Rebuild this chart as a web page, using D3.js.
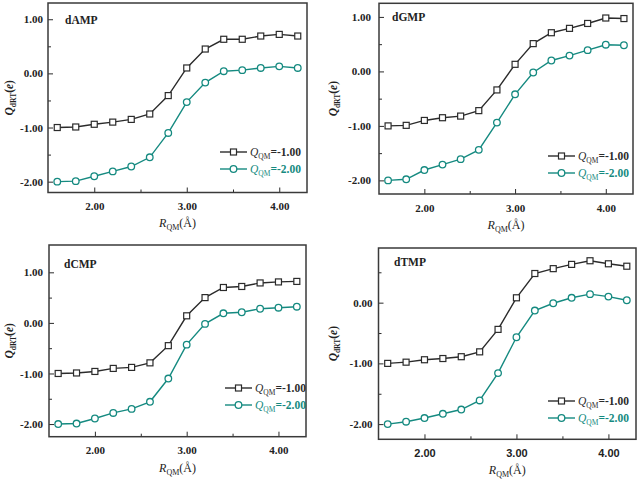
<!DOCTYPE html>
<html><head><meta charset="utf-8">
<script src="https://cdn.jsdelivr.net/npm/d3@7"></script>
<style>body{margin:0;background:#fff}svg{display:block}</style>
</head><body>
<svg id="c" width="639" height="481"></svg>
<script>
const rqm = [1.6,1.8,2.0,2.2,2.4,2.6,2.8,3.0,3.2,3.4,3.6,3.8,4.0,4.2];
const seriesNames = ["-1.00","-2.00"];
const dAMP_m1 = [-1.00,-0.99,-0.94,-0.90,-0.85,-0.75,-0.41,0.10,0.45,0.63,0.63,0.69,0.72,0.69];
const dAMP_m2 = [-2.00,-1.99,-1.90,-1.81,-1.72,-1.55,-1.10,-0.53,-0.17,0.04,0.06,0.10,0.13,0.10];
const dGMP_m1 = [-1.00,-0.99,-0.90,-0.85,-0.82,-0.72,-0.34,0.13,0.51,0.71,0.79,0.88,0.98,0.97];
const dGMP_m2 = [-2.00,-1.98,-1.81,-1.71,-1.61,-1.44,-0.94,-0.42,-0.02,0.20,0.29,0.39,0.49,0.48];
const dCMP_m1 = [-1.00,-0.99,-0.96,-0.90,-0.88,-0.79,-0.45,0.14,0.50,0.70,0.72,0.79,0.81,0.82];
const dCMP_m2 = [-2.00,-1.99,-1.89,-1.78,-1.70,-1.56,-1.10,-0.43,-0.02,0.19,0.21,0.28,0.30,0.32];
const dTMP_m1 = [-1.00,-0.98,-0.94,-0.92,-0.89,-0.81,-0.44,0.08,0.48,0.56,0.63,0.69,0.64,0.60];
const dTMP_m2 = [-2.00,-1.96,-1.90,-1.83,-1.76,-1.61,-1.16,-0.57,-0.13,-0.01,0.08,0.14,0.10,0.04];
const xMajor = [2,3,4];
const xMinor = [2.5,3.5];

const panels = [
  {name:"dAMP", s1:dAMP_m1, s2:dAMP_m2, x:48, y:3, w:259, h:189.5, yd:[-2.2,1.3], yMaj:[-2,-1,0,1], yMin:[-1.5,-0.5,0.5], ypad:5, ylx:13, xlabY:227, xtickFont:"Liberation Serif", lgX:220, lgY:[152,169], tx:65, ty:24},
  {name:"dGMP", s1:dGMP_m1, s2:dGMP_m2, x:379, y:3.3, w:254, h:190.7, yd:[-2.25,1.25], yMaj:[-2,-1,0,1], yMin:[-1.5,-0.5,0.5], ypad:8, ylx:337, xlabY:229, xtickFont:"Liberation Serif", lgX:548, lgY:[156,173], tx:392, ty:21},
  {name:"dCMP", s1:dCMP_m1, s2:dCMP_m2, x:49, y:245, w:257, h:191.7, yd:[-2.25,1.54], yMaj:[-2,-1,0,1], yMin:[-1.5,-0.5,0.5], ypad:6, ylx:13, xlabY:472, xtickFont:"Liberation Serif", lgX:225, lgY:[388,405], tx:64, ty:268},
  {name:"dTMP", s1:dTMP_m1, s2:dTMP_m2, x:378.5, y:248, w:257.5, h:191.3, yd:[-2.25,0.9], yMaj:[-2,-1,0], yMin:[-1.5,-0.5,0.5], ypad:6, ylx:337, xlabY:474, xtickFont:"Liberation Sans", lgX:548, lgY:[401,418], tx:394, ty:266}
];

const black = "#2b2b2b", teal = "#158a80";
const fmt = d => d.toFixed(2);
const svg = d3.select("#c");

panels.forEach(p => {
  const g = svg.append("g");
  const x = d3.scaleLinear().domain([1.5,4.3]).range([p.x, p.x+p.w]);
  const y = d3.scaleLinear().domain(p.yd).range([p.y+p.h, p.y]);

  const ya = g.append("g").attr("transform",`translate(${p.x},0)`)
    .call(d3.axisLeft(y).tickValues(p.yMaj).tickFormat(fmt).tickSizeInner(-5).tickSizeOuter(0).tickPadding(p.ypad));
  ya.select(".domain").remove();
  ya.selectAll("line").attr("stroke",black).attr("stroke-width",1);
  ya.selectAll("text").attr("font-family","Liberation Serif").attr("font-weight","bold").attr("font-size",11).attr("fill","#222");
  const ym = g.append("g").attr("transform",`translate(${p.x},0)`)
    .call(d3.axisLeft(y).tickValues(p.yMin).tickFormat("").tickSizeInner(-3).tickSizeOuter(0));
  ym.select(".domain").remove();
  ym.selectAll("line").attr("stroke",black);

  const xa = g.append("g").attr("transform",`translate(0,${p.y+p.h})`)
    .call(d3.axisBottom(x).tickValues(xMajor).tickFormat(fmt).tickSizeInner(-5).tickSizeOuter(0).tickPadding(10));
  xa.select(".domain").remove();
  xa.selectAll("line").attr("stroke",black);
  xa.selectAll("text").attr("font-family",p.xtickFont).attr("font-weight","bold").attr("font-size",11).attr("fill","#222");
  const xm = g.append("g").attr("transform",`translate(0,${p.y+p.h})`)
    .call(d3.axisBottom(x).tickValues(xMinor).tickFormat("").tickSizeInner(-3).tickSizeOuter(0));
  xm.select(".domain").remove();
  xm.selectAll("line").attr("stroke",black);

  g.append("rect").attr("x",p.x).attr("y",p.y).attr("width",p.w).attr("height",p.h)
    .attr("fill","none").attr("stroke","#3a3a3a").attr("stroke-width",1.5);

  g.append("text").attr("x",p.tx).attr("y",p.ty).text(p.name)
    .attr("font-family","Liberation Serif").attr("font-weight","bold").attr("font-size",11.5).attr("fill","#222");

  const xl = g.append("text").attr("x",(p.x+p.w/2)).attr("y",p.xlabY).attr("text-anchor","middle")
    .attr("font-family","Liberation Serif").attr("font-size",12).attr("fill","#222");
  xl.append("tspan").attr("font-style","italic").text("R");
  xl.append("tspan").attr("font-size",8).attr("dy",3).text("QM");
  xl.append("tspan").attr("dy",-3).text("(Å)");

  const cy = p.y + p.h/2;
  const yl = g.append("text").attr("transform",`translate(${p.ylx},${cy}) rotate(-90)`).attr("text-anchor","middle")
    .attr("font-family","Liberation Serif").attr("font-weight","bold").attr("font-size",11.5).attr("fill","#222");
  yl.append("tspan").attr("font-style","italic").text("Q");
  yl.append("tspan").attr("font-size",7.5).attr("dy",2.5).text("dRT");
  yl.append("tspan").attr("dy",-2.5).text("(");
  yl.append("tspan").attr("font-style","italic").text("e");
  yl.append("tspan").text(")");

  const line = d3.line().x((d,i)=>x(rqm[i])).y(d=>y(d));
  const sets = [{v:p.s1,c:black,m:"sq"},{v:p.s2,c:teal,m:"ci"}];
  sets.forEach(s => {
    g.append("path").attr("d",line(s.v)).attr("fill","none").attr("stroke",s.c).attr("stroke-width",1.4);
    if (s.m==="sq") {
      g.selectAll(null).data(s.v).enter().append("rect")
        .attr("x",(d,i)=>x(rqm[i])-3).attr("y",d=>y(d)-3).attr("width",6).attr("height",6)
        .attr("fill","#fff").attr("stroke",s.c).attr("stroke-width",1.2);
    } else {
      g.selectAll(null).data(s.v).enter().append("circle")
        .attr("cx",(d,i)=>x(rqm[i])).attr("cy",d=>y(d)).attr("r",3.3)
        .attr("fill","#fff").attr("stroke",s.c).attr("stroke-width",1.3);
    }
  });

  sets.forEach((s,k) => {
    const ly = p.lgY[k];
    g.append("line").attr("x1",p.lgX).attr("x2",p.lgX+27).attr("y1",ly).attr("y2",ly).attr("stroke",s.c).attr("stroke-width",1.4);
    if (s.m==="sq") g.append("rect").attr("x",p.lgX+13.5-3).attr("y",ly-3).attr("width",6).attr("height",6).attr("fill","#fff").attr("stroke",s.c).attr("stroke-width",1.2);
    else g.append("circle").attr("cx",p.lgX+13.5).attr("cy",ly).attr("r",3.3).attr("fill","#fff").attr("stroke",s.c).attr("stroke-width",1.3);
    const t = g.append("text").attr("x",p.lgX+30).attr("y",ly+4).attr("font-family","Liberation Serif").attr("font-size",11.5).attr("fill",s.c);
    t.append("tspan").attr("font-style","italic").text("Q");
    t.append("tspan").attr("font-size",7.5).attr("dy",3).text("QM");
    t.append("tspan").attr("dy",-3).attr("font-weight","bold").text("=" + seriesNames[k]);
  });
});
</script>
</body></html>
